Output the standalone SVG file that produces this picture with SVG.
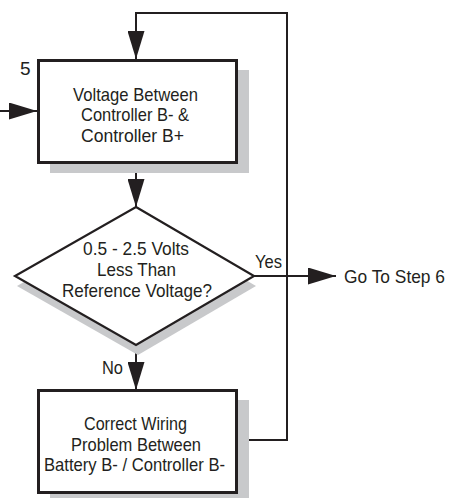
<svg xmlns="http://www.w3.org/2000/svg" width="458" height="498" viewBox="0 0 458 498">
<style>
text{font-family:"Liberation Sans",Arial,sans-serif;font-size:19px;fill:#231f20}
.box{fill:#fff;stroke:#231f20;stroke-width:3}
.dia{fill:#fff;stroke:#231f20;stroke-width:2.2}
.sh{fill:#c8c9cb}
.ln{fill:none;stroke:#231f20;stroke-width:2}
</style>
<defs>
<marker id="ah" viewBox="0 0 28 17" refX="28" refY="8.5" markerWidth="28" markerHeight="17" markerUnits="userSpaceOnUse" orient="auto">
<path d="M0,0 L28,8.5 L0,17 Z" fill="#231f20"/>
</marker>
</defs>
<rect width="458" height="498" fill="#fff"/>
<g id="connectors">
<path class="ln" d="M136,163 V207" marker-end="url(#ah)"/>
<path class="ln" d="M136,346 V390" marker-end="url(#ah)"/>
<path class="ln" d="M0,111 H37" marker-end="url(#ah)"/>
<path class="ln" d="M254,276 H336" marker-end="url(#ah)"/>
<path class="ln" d="M236,440 H287 V13 H136 V59" marker-end="url(#ah)"/>
<text x="255" y="268" textLength="27" lengthAdjust="spacingAndGlyphs">Yes</text>
<text x="102" y="374" textLength="21" lengthAdjust="spacingAndGlyphs">No</text>
</g>
<g id="step5">
<rect class="sh" x="50" y="70" width="199" height="103"/>
<rect class="box" x="38.5" y="60.5" width="198" height="102"/>
<text x="20" y="75">5</text>
<text x="73" y="101" textLength="125" lengthAdjust="spacingAndGlyphs">Voltage Between</text>
<text x="81" y="121" textLength="108" lengthAdjust="spacingAndGlyphs">Controller B- &amp;</text>
<text x="81" y="141.5" textLength="103" lengthAdjust="spacingAndGlyphs">Controller B+</text>
</g>
<g id="decision">
<polygon class="sh" points="138,217 256,286 138,355 17,286"/>
<polygon class="dia" points="136,207 254,276 136,345 15,276"/>
<text x="83" y="255" textLength="106" lengthAdjust="spacingAndGlyphs">0.5 - 2.5 Volts</text>
<text x="97" y="276" textLength="79" lengthAdjust="spacingAndGlyphs">Less Than</text>
<text x="62" y="296.5" textLength="150" lengthAdjust="spacingAndGlyphs">Reference Voltage?</text>
</g>
<g id="step6">
<text x="344" y="283" textLength="101" lengthAdjust="spacingAndGlyphs">Go To Step 6</text>
</g>
<g id="correct">
<rect class="sh" x="50" y="400" width="199" height="98"/>
<rect class="box" x="38.5" y="390.5" width="198" height="102"/>
<text x="84" y="430" textLength="103" lengthAdjust="spacingAndGlyphs">Correct Wiring</text>
<text x="71" y="451" textLength="130" lengthAdjust="spacingAndGlyphs">Problem Between</text>
<text x="44" y="470.5" textLength="181" lengthAdjust="spacingAndGlyphs">Battery B- / Controller B-</text>
</g>
</svg>
